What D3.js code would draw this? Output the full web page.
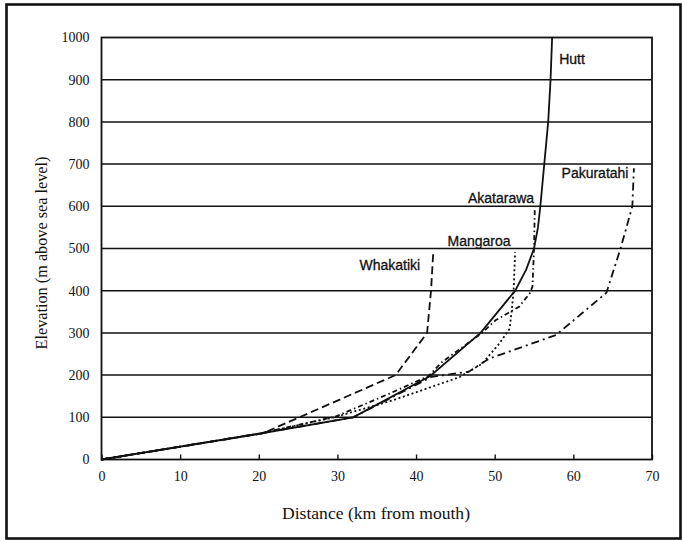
<!DOCTYPE html>
<html>
<head>
<meta charset="utf-8">
<script src="https://cdn.jsdelivr.net/npm/d3@7"></script>
<style>
	body{margin:0;background:#fff;}
	svg{display:block;}
</style>
</head>
<body>
<svg id="chart" width="682" height="541"></svg>
<script>
// river long profiles: distance from mouth (km) vs elevation (m)
var rivers = ['Hutt', 'Akatarawa', 'Mangaroa', 'Pakuratahi', 'Whakatiki'];

var huttKm   = [0, 20, 32, 41.8, 48.2, 52.6, 54.0, 55.0, 55.5, 55.8, 56.3, 56.8, 57.1, 57.3];
var huttElev = [0, 61, 100, 198, 300, 400, 450, 500, 550, 600, 700, 800, 900, 1000];

var akatKm   = [0, 20, 29.8, 36.6, 41.6, 43.3, 48.4, 50.1, 53.1, 54.5, 54.8, 55.0, 55.1];
var akatElev = [0, 61, 102, 156, 198, 231, 300, 330, 362, 395, 410, 500, 600];

var mangKm   = [0, 20, 29.6, 37, 45.5, 48.4, 50.6, 51.9, 52.2, 52.4, 52.6];
var mangElev = [0, 61, 100, 140, 195, 227, 275, 310, 360, 400, 492];

var pakuKm   = [0, 20, 32, 42, 46.7, 49.3, 57.8, 64.2, 66.0, 67.5, 67.7];
var pakuElev = [0, 61, 100, 196, 208, 239, 295, 395, 500, 600, 690];

var whakKm   = [0, 20.5, 37.4, 41.4, 41.9, 42.2];
var whakElev = [0, 62, 200, 300, 400, 496];

var xTicks = [0, 10, 20, 30, 40, 50, 60, 70];
var yTicks = [0, 100, 200, 300, 400, 500, 600, 700, 800, 900, 1000];

// label text positions (km, m)
var labelKm   = [58.2, 46.6, 44.0, 58.5, 32.8];
var labelElev = [938, 608, 506, 668, 448];

var series = [
	{name:'Hutt',       km:huttKm, elev:huttElev, dash:null},
	{name:'Akatarawa',  km:akatKm, elev:akatElev, dash:'5,3,1.5,3'},
	{name:'Mangaroa',   km:mangKm, elev:mangElev, dash:'2,2.6'},
	{name:'Pakuratahi', km:pakuKm, elev:pakuElev, dash:'8,4,2,4'},
	{name:'Whakatiki',  km:whakKm, elev:whakElev, dash:'8,4'}
];

var svg = d3.select('#chart');
var x = d3.scaleLinear().domain([0, 70]).range([101.5, 652]);
var y = d3.scaleLinear().domain([0, 1000]).range([459.5, 37.5]);

// outer border
svg.append('rect')
	.attr('x', 6.5).attr('y', 4.5)
	.attr('width', 674).attr('height', 534)
	.attr('fill', 'none')
	.attr('stroke', '#111')
	.attr('stroke-width', 2.6);

// horizontal grid
svg.append('g')
	.selectAll('line')
	.data(yTicks.slice(1, -1))
	.join('line')
	.attr('x1', x(0)).attr('x2', x(70))
	.attr('y1', function(d){ return y(d); })
	.attr('y2', function(d){ return y(d); })
	.attr('stroke', '#111')
	.attr('stroke-width', 1.5);

// plot frame
svg.append('rect')
	.attr('x', x(0)).attr('y', y(1000))
	.attr('width', x(70) - x(0)).attr('height', y(0) - y(1000))
	.attr('fill', 'none')
	.attr('stroke', '#111')
	.attr('stroke-width', 1.8);

// x axis: inward ticks, serif labels
var xAxis = d3.axisBottom(x).tickValues(xTicks).tickFormat(d3.format('d'))
	.tickSizeInner(-5).tickSizeOuter(0).tickPadding(12);
var gx = svg.append('g').attr('transform', 'translate(0,' + y(0) + ')').call(xAxis);
gx.select('.domain').remove();
gx.selectAll('.tick line').attr('stroke', '#111').attr('stroke-width', 1.4);
gx.selectAll('.tick text')
	.attr('font-family', '"Liberation Serif", "DejaVu Serif", serif')
	.attr('font-size', 14)
	.attr('fill', '#111');

var yAxis = d3.axisLeft(y).tickValues(yTicks).tickFormat(d3.format('d')).tickSize(0).tickPadding(12);
var gy = svg.append('g').attr('transform', 'translate(' + x(0) + ',0)').call(yAxis);
gy.select('.domain').remove();
gy.selectAll('.tick text')
	.attr('font-family', '"Liberation Serif", "DejaVu Serif", serif')
	.attr('font-size', 14)
	.attr('fill', '#111');

// axis titles
svg.append('text')
	.attr('x', 376).attr('y', 519)
	.attr('text-anchor', 'middle')
	.attr('font-family', '"Liberation Serif", serif')
	.attr('font-size', 17)
	.attr('fill', '#111')
	.attr('textLength', 188)
	.attr('lengthAdjust', 'spacingAndGlyphs')
	.text('Distance (km from mouth)');

svg.append('text')
	.attr('transform', 'translate(47,253) rotate(-90)')
	.attr('text-anchor', 'middle')
	.attr('font-family', '"Liberation Serif", serif')
	.attr('font-size', 17)
	.attr('fill', '#111')
	.attr('textLength', 193)
	.attr('lengthAdjust', 'spacingAndGlyphs')
	.text('Elevation (m above sea level)');

// profiles
var line = d3.line()
	.x(function(d){ return x(d[0]); })
	.y(function(d){ return y(d[1]); });

svg.append('g')
	.selectAll('path')
	.data(series)
	.join('path')
	.attr('d', function(s){ return line(d3.zip(s.km, s.elev)); })
	.attr('fill', 'none')
	.attr('stroke', '#111')
	.attr('stroke-width', 1.8)
	.attr('stroke-dasharray', function(s){ return s.dash; });

// river names
svg.append('g')
	.selectAll('text')
	.data(rivers)
	.join('text')
	.attr('x', function(d, i){ return x(labelKm[i]); })
	.attr('y', function(d, i){ return y(labelElev[i]); })
	.attr('font-family', '"Liberation Sans", Arial, sans-serif')
	.attr('font-size', 14)
	.attr('fill', '#111')
	.attr('stroke', '#111')
	.attr('stroke-width', 0.3)
	.text(function(d){ return d; });
</script>
</body>
</html>
